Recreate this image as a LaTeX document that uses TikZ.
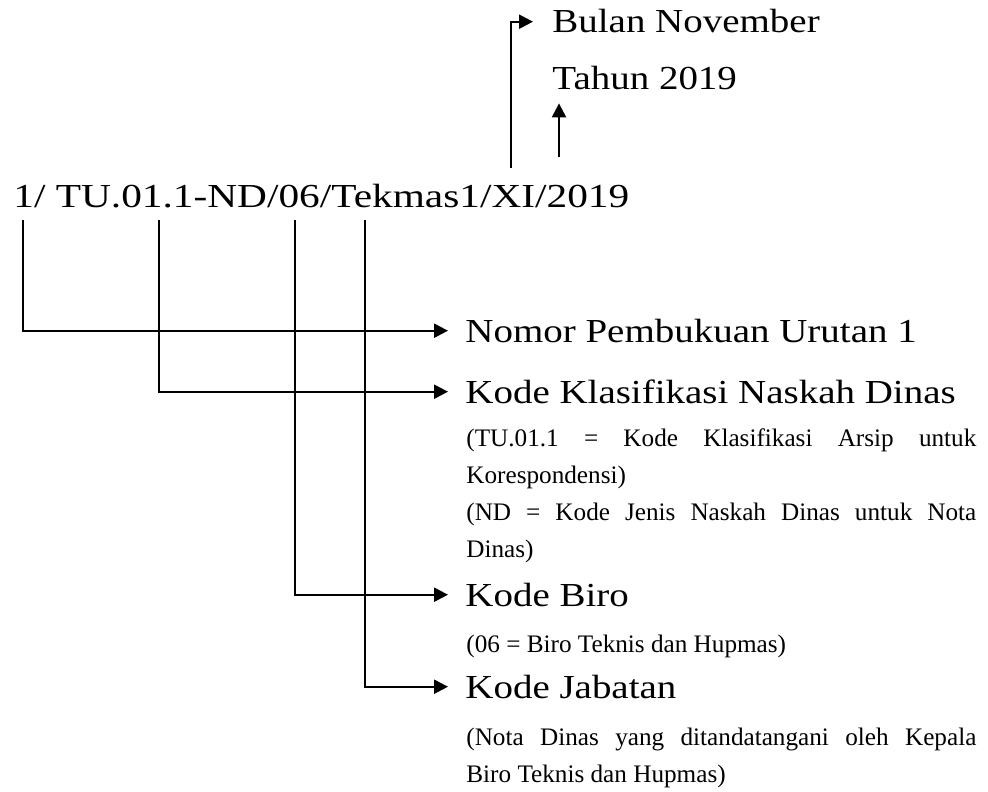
\documentclass[tikz,border=0pt]{standalone}
\usepackage{fontspec}
\setmainfont{Liberation Serif}
\newfontfamily\labelfont{Liberation Serif}[FakeStretch=1.16]
\newfontfamily\codefont{Liberation Serif}[FakeStretch=1.23]
\usetikzlibrary{arrows.meta}

\tikzset{
  kode/.style={anchor=base west, inner xsep=8.5pt, inner ysep=0pt, text height=11.3pt, text depth=0pt, font=\labelfont\fontsize{16.8pt}{20pt}\selectfont},
  ket/.style={anchor=north west, inner sep=0pt, text width=255pt, align=justify, font=\fontsize{12.6pt}{18.5pt}\selectfont},
  panah/.style={line width=1.1pt, -{Triangle[length=7pt,width=7pt]}}
}

\begin{document}
\begin{tikzpicture}[x=0.5pt, y=-0.5pt]
    \useasboundingbox (0,0) rectangle (988,791);
    % nomor naskah dinas
    \node[anchor=base west, inner sep=0pt, font=\codefont\fontsize{16.8pt}{20pt}\selectfont] (nomor) at (13,207) {1/ TU.01.1-ND/06/Tekmas1/XI/2019};
    \coordinate (urut) at (23,220);
    \coordinate (klas) at (159,220);
    \coordinate (biro) at (295,220);
    \coordinate (jab) at (365,220);
    \coordinate (bln) at (511,168);
    \coordinate (thn) at (559,157);

    % keterangan atas
    \node[kode, inner xsep=9.5pt] (bulan) at (533,33) {Bulan November};
    \node[kode, inner xsep=0pt, inner ysep=6.5pt] (tahun) at (552,90) {Tahun 2019};

    % keterangan bawah
    \node[kode] (urutan) at (448,342) {Nomor Pembukuan Urutan 1};
    \node[kode] (klasifikasi) at (448,403) {Kode Klasifikasi Naskah Dinas};
    \node[ket] (ket1) at (466,428) {(TU.01.1 = Kode Klasifikasi Arsip untuk\linebreak Korespondensi)};
    \node[ket] (ket2) at (466,503) {(ND = Kode Jenis Naskah Dinas untuk Nota\linebreak Dinas)};
    \node[kode] (kbiro) at (448,606) {Kode Biro};
    \node[ket] (ket3) at (466,635) {(06 = Biro Teknis dan Hupmas)};
    \node[kode] (kjab) at (448,698) {Kode Jabatan};
    \node[ket] (ket4) at (466,728) {(Nota Dinas yang ditandatangani oleh Kepala\linebreak Biro Teknis dan Hupmas)};

    \draw[panah] (bln) |- (bulan.west);
    \draw[panah] (thn) -- (thn |- tahun.south);
    \draw[panah] (urut) |- (urutan.west);
    \draw[panah] (klas) |- (klasifikasi.west);
    \draw[panah] (biro) |- (kbiro.west);
    \draw[panah] (jab) |- (kjab.west);
\end{tikzpicture}
\end{document}
